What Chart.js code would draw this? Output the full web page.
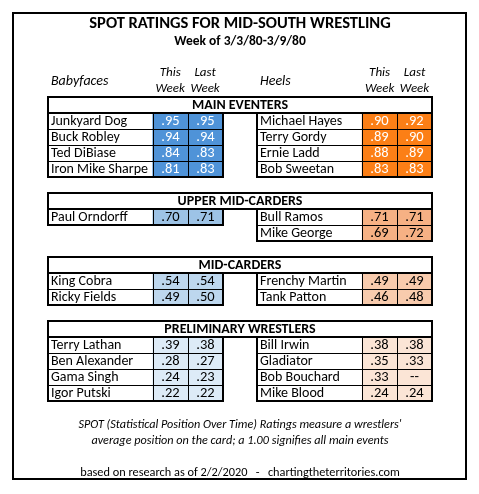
<!DOCTYPE html>
<html><head><meta charset="utf-8">
<script src="https://cdn.jsdelivr.net/npm/chart.js@4.4.1/dist/chart.umd.min.js"></script>
<style>html,body{margin:0;padding:0;background:#fff}canvas{display:block}</style>
</head><body>
<canvas id="c" width="479" height="494"></canvas>
<script>
// ---- data ----
const title = 'SPOT RATINGS FOR MID-SOUTH WRESTLING';
const subtitle = 'Week of 3/3/80-3/9/80';
const sections = ['MAIN EVENTERS', 'UPPER MID-CARDERS', 'MID-CARDERS', 'PRELIMINARY WRESTLERS'];
const faceNames = [
  ['Junkyard Dog', 'Buck Robley', 'Ted DiBiase', 'Iron Mike Sharpe'],
  ['Paul Orndorff'],
  ['King Cobra', 'Ricky Fields'],
  ['Terry Lathan', 'Ben Alexander', 'Gama Singh', 'Igor Putski']
];
const faceThis = [[.95, .94, .84, .81], [.70], [.54, .49], [.39, .28, .24, .22]];
const faceLast = [[.95, .94, .83, .83], [.71], [.54, .50], [.38, .27, .23, .22]];
const heelNames = [
  ['Michael Hayes', 'Terry Gordy', 'Ernie Ladd', 'Bob Sweetan'],
  ['Bull Ramos', 'Mike George'],
  ['Frenchy Martin', 'Tank Patton'],
  ['Bill Irwin', 'Gladiator', 'Bob Bouchard', 'Mike Blood']
];
const heelThis = [[.90, .89, .88, .83], [.71, .69], [.49, .46], [.38, .35, .33, .24]];
const heelLast = [[.92, .90, .89, .83], [.71, .72], [.49, .48], [.38, .33, null, .24]];
const footLines = [
  "SPOT (Statistical Position Over Time) Ratings measure a wrestlers'",
  'average position on the card; a 1.00 signifies all main events'
];
const footer = 'based on research as of 2/2/2020   -   chartingtheterritories.com';

// ---- styles ----
const FONT = 'Carlito, Calibri, Lato, sans-serif';
const faceColors = ['#4f93d8', '#9dc3e6', '#bdd7ee', '#ddebf7'];
const heelColors = ['#fc7f16', '#f6b184', '#f8cbad', '#fbe5d6'];
const textOnFill = ['#ffffff', '#000000', '#000000', '#000000'];

// ---- row layout (category labels) ----
const rowLabels = ['hdrA', 'hdrB'];
const rowKey = (s, i) => 'S' + s + 'R' + i;
sections.forEach((sec, s) => {
  rowLabels.push('S' + s + 'H');
  const n = Math.max(faceNames[s].length, heelNames[s].length);
  for (let i = 0; i < n; i++) rowLabels.push(rowKey(s, i));
  if (s < sections.length - 1) rowLabels.push('G' + s);
});

// columns (in x units): face name 0-3, this 3-4, last 4-5, gap 5-6, heel name 6-9, this 9-10, last 10-11
function cellData(names, vals, x0, x1) {
  const d = [];
  names.forEach((arr, s) => arr.forEach((nm, i) => {
    d.push({ x: [x0, x1], y: rowKey(s, i), v: vals[s][i], s: s });
  }));
  return d;
}
const dsFaceThis = cellData(faceNames, faceThis, 3, 4);
const dsFaceLast = cellData(faceNames, faceLast, 4, 5);
const dsHeelThis = cellData(heelNames, heelThis, 9, 10);
const dsHeelLast = cellData(heelNames, heelLast, 10, 11);

function mkDs(data, colors, label) {
  return {
    label: label, data: data,
    backgroundColor: data.map(p => colors[p.s]),
    borderWidth: 0, grouped: false, barPercentage: 1, categoryPercentage: 1
  };
}

const tablePlugin = {
  id: 'tablePlugin',
  afterDatasetsDraw(chart) {
    const ctx = chart.ctx;
    const xs = chart.scales.x, ys = chart.scales.y;
    const px = v => Math.round(xs.getPixelForValue(v));
    const band = ys.getPixelForValue(1) - ys.getPixelForValue(0);
    const rowTop = lbl => Math.round(ys.getPixelForValue(rowLabels.indexOf(lbl)) - band / 2);
    const rowMid = lbl => ys.getPixelForValue(rowLabels.indexOf(lbl));
    ctx.save();
    ctx.textBaseline = 'middle';
    ctx.fillStyle = '#000';

    // outer frame
    ctx.strokeStyle = '#000';
    ctx.lineWidth = 2;
    ctx.strokeRect(13, 13, 453, 466);

    // title
    ctx.textAlign = 'center';
    ctx.font = 'bold 16.5px ' + FONT;
    ctx.fillText(title, 240, 24);
    ctx.font = 'bold 13.5px ' + FONT;
    ctx.fillText(subtitle, 240, 42);

    // column headers
    const hA = rowMid('hdrA'), hB = rowMid('hdrB');
    ctx.font = 'italic 14px ' + FONT;
    ctx.textAlign = 'left';
    ctx.fillText('Babyfaces', px(0) + 3, (hA + hB) / 2);
    ctx.fillText('Heels', px(6) + 3, (hA + hB) / 2);
    ctx.font = 'italic 13px ' + FONT;
    ctx.textAlign = 'center';
    [[3, 4], [4, 5], [9, 10], [10, 11]].forEach((c, k) => {
      const cx = (xs.getPixelForValue(c[0]) + xs.getPixelForValue(c[1])) / 2;
      ctx.fillText(k % 2 === 0 ? 'This' : 'Last', cx, hA);
      ctx.fillText('Week', cx, hB);
    });

    const drawSide = (names, tv, lv, c0, s, hdrBottom) => {
      const n = names[s].length;
      const l = px(c0), r = px(c0 + 5), v1 = px(c0 + 3), v2 = px(c0 + 4);
      names[s].forEach((nm, i) => {
        const y = rowMid(rowKey(s, i));
        ctx.textAlign = 'left';
        ctx.fillStyle = '#000';
        ctx.font = '14px ' + FONT;
        ctx.fillText(nm, l + 3, y + 0.5);
        ctx.textAlign = 'center';
        ctx.fillStyle = textOnFill[s];
        ctx.font = '14.5px ' + FONT;
        const fmt = v => v == null ? '--' : v.toFixed(2).replace(/^0/, '');
        ctx.fillText(fmt(tv[s][i]), (v1 + v2) / 2, y + 0.5);
        ctx.fillText(fmt(lv[s][i]), (v2 + r) / 2, y + 0.5);
      });
      ctx.strokeStyle = '#000';
      ctx.lineWidth = 1;
      ctx.beginPath();
      for (let i = 1; i < n; i++) {
        const y = rowTop(rowKey(s, i)) + 0.5;
        ctx.moveTo(l, y); ctx.lineTo(r, y);
      }
      const bottom = hdrBottom + Math.round(n * band);
      ctx.moveTo(v1 + 0.5, hdrBottom); ctx.lineTo(v1 + 0.5, bottom);
      ctx.moveTo(v2 + 0.5, hdrBottom); ctx.lineTo(v2 + 0.5, bottom);
      ctx.stroke();
      ctx.lineWidth = 2;
      ctx.strokeRect(l, hdrBottom, r - l, bottom - hdrBottom);
    };

    sections.forEach((sec, s) => {
      const top = rowTop('S' + s + 'H');
      const hb = top + Math.round(band);
      ctx.fillStyle = '#000';
      ctx.font = 'bold 14px ' + FONT;
      ctx.textAlign = 'center';
      ctx.fillText(sec, (px(0) + px(11)) / 2, rowMid('S' + s + 'H') + 0.5);
      drawSide(faceNames, faceThis, faceLast, 0, s, hb);
      drawSide(heelNames, heelThis, heelLast, 6, s, hb);
      ctx.strokeStyle = '#000';
      ctx.lineWidth = 2;
      ctx.strokeRect(px(0), top, px(11) - px(0), hb - top);
    });

    // footnotes
    ctx.fillStyle = '#000';
    ctx.textAlign = 'center';
    ctx.font = 'italic 12.2px ' + FONT;
    ctx.fillText(footLines[0], 240, 425);
    ctx.fillText(footLines[1], 240, 441);
    ctx.font = '12.3px ' + FONT;
    ctx.fillText(footer, 240, 473);
    ctx.restore();
  }
};

new Chart(document.getElementById('c'), {
  type: 'bar',
  data: {
    labels: rowLabels,
    datasets: [
      mkDs(dsFaceThis, faceColors, 'Babyfaces this week'),
      mkDs(dsFaceLast, faceColors, 'Babyfaces last week'),
      mkDs(dsHeelThis, heelColors, 'Heels this week'),
      mkDs(dsHeelLast, heelColors, 'Heels last week')
    ]
  },
  options: {
    responsive: false,
    animation: false,
    indexAxis: 'y',
    layout: { padding: { top: 65, bottom: 93, left: 48, right: 47 } },
    scales: {
      x: { type: 'linear', min: 0, max: 11, display: false },
      y: { type: 'category', labels: rowLabels, display: false, offset: true }
    },
    plugins: { legend: { display: false }, tooltip: { enabled: false }, title: { display: false } }
  },
  plugins: [tablePlugin]
});
</script>
</body></html>
